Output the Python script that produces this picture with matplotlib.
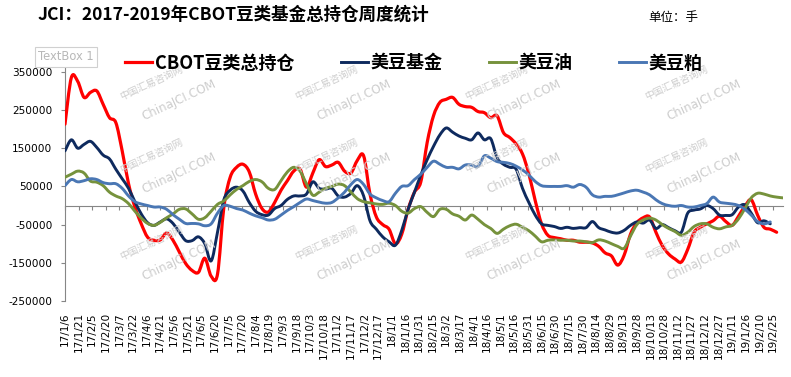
import numpy as np
import pandas as pd
import matplotlib
matplotlib.use("Agg")
import matplotlib.pyplot as plt
import matplotlib.dates as mdates
from matplotlib.path import Path
from matplotlib.patches import PathPatch
from matplotlib.lines import Line2D

plt.rcParams['font.family'] = ['DejaVu Sans', 'Noto Sans CJK SC']
CJK = ['Noto Sans CJK SC', 'DejaVu Sans']

nan = np.nan
# weekly dates
dates = pd.date_range('2017-01-06', periods=114, freq='7D')

# values in thousands of contracts (手)
cbot_total_k = [213, 335, 325, 283, 296, 300, 265, 230, 217, 143,
                57, -4, -48, -83, -91, -90, -72, -91, -122, -152,
                -170, -175, -138, -185, -180, -5, 74, 100, 108, 88,
                30, -8, -17, 8, 40, 65, 90, 95, 48, 85,
                120, 102, 106, 113, 90, 85, 118, 130, 30, -30,
                -50, -62, -100, -75, -10, 35, 62, 165, 235, 270,
                278, 283, 265, 259, 257, 246, 243, 230, 235, 191,
                178, 161, 135, 83, 13, -48, -78, -84, -87, -91,
                -91, -96, -96, -98, -107, -124, -132, -156, -130, -75,
                -45, -32, -30, -70, -105, -127, -140, -148, -115, -70,
                -57, -48, -40, -28, -42, -52, -28, -2, 15, -25,
                -57, -62, -70, nan]
soy_fund_k = [143, 172, 150, 160, 168, 152, 132, 122, 95, 70,
              45, 10, -22, -45, -52, -43, -35, -47, -70, -92,
              -92, -82, -100, -145, -70, 15, 40, 48, 38, 8,
              -15, -24, -25, -8, 0, 16, 25, 25, 30, 62,
              45, 43, 45, 25, 22, 32, 52, 25, -40, -62,
              -82, -95, -104, -65, -10, 35, 80, 120, 155, 185,
              203, 192, 182, 176, 172, 190, 172, 175, 125, 108,
              100, 95, 45, 8, -25, -48, -52, -55, -60, -57,
              -60, -58, -58, -42, -58, -64, -70, -72, -65, -52,
              -43, -46, -38, -60, -50, -58, -66, -70, -20, -12,
              -9, 0, -8, -25, -26, -24, -4, 2, -20, -45,
              -40, -48, nan, nan]
soy_oil_k = [74, 82, 90, 85, 64, 61, 52, 35, 25, 18,
             5, -15, -33, -47, -52, -44, -32, -22, -10, -9,
             -22, -36, -32, -15, 3, 12, 28, 42, 52, 63,
             68, 62, 45, 42, 65, 88, 100, 90, 57, 27,
             35, 45, 50, 56, 52, 35, 18, 10, 7, 4,
             3, 6, 0, -15, -20, -8, -3, -18, -29, -10,
             -10, -22, -28, -38, -25, -36, -50, -60, -73, -62,
             -53, -49, -57, -66, -80, -95, -91, -90, -91, -91,
             -93, -93, -95, -97, -90, -93, -100, -107, -112, -80,
             -50, -38, -33, -38, -50, -60, -68, -78, -70, -55,
             -48, -48, -57, -61, -56, -52, -35, -8, 20, 32,
             30, 25, 22, 20]
soy_meal_k = [52, 68, 62, 65, 70, 68, 60, 57, 57, 45,
              25, 10, 4, 0, -4, -4, -10, -24, -36, -47,
              -47, -48, -53, -48, -20, 0, -2, -8, -12, -20,
              -27, -32, -38, -36, -25, -13, -3, 8, 17, 13,
              9, 6, 8, 20, 35, 55, 68, 55, 30, 20,
              13, 10, 32, 50, 52, 68, 82, 100, 116, 108,
              100, 100, 96, 106, 106, 102, 130, 124, 115, 113,
              110, 103, 93, 80, 63, 52, 50, 50, 50, 52,
              48, 55, 48, 28, 22, 24, 24, 28, 33, 38,
              40, 35, 28, 15, 5, 0, -2, 0, -4, -4,
              0, 5, 22, 9, 6, 4, 0, -10, -25, -42,
              -48, -43, nan, nan]

series_names = ['CBOT豆类总持仓', '美豆基金', '美豆油', '美豆粕']
series_colors = ['#FF0000', '#0E2A5E', '#76923C', '#4A77B4']

tick_labels = ['17/1/6', '17/1/21', '17/2/5', '17/2/20', '17/3/7', '17/3/22', '17/4/6',
               '17/4/21', '17/5/6', '17/5/21', '17/6/5', '17/6/20', '17/7/5', '17/7/20',
               '17/8/4', '17/8/19', '17/9/3', '17/9/18', '17/10/3', '17/10/18', '17/11/2',
               '17/11/17', '17/12/2', '17/12/17', '18/1/1', '18/1/16', '18/1/31', '18/2/15',
               '18/3/2', '18/3/17', '18/4/1', '18/4/16', '18/5/1', '18/5/16', '18/5/31',
               '18/6/15', '18/6/30', '18/7/15', '18/7/30', '18/8/14', '18/8/29', '18/9/13',
               '18/9/28', '18/10/13', '18/10/28', '18/11/12', '18/11/27', '18/12/12',
               '18/12/27', '19/1/11', '19/1/26', '19/2/10', '19/2/25']
tick_dates = pd.to_datetime(['20' + s.replace('/', '-') for s in tick_labels], format='%Y-%m-%d')

y_ticks = [-250000, -150000, -50000, 50000, 150000, 250000, 350000]


def smooth_path(x, y):
    """Excel-style smoothed line: cubic Bezier through the data points."""
    n = len(x)
    verts = [(x[0], y[0])]
    codes = [Path.MOVETO]
    for i in range(n - 1):
        p0 = (x[i - 1], y[i - 1]) if i > 0 else (x[i], y[i])
        p1 = (x[i], y[i])
        p2 = (x[i + 1], y[i + 1])
        p3 = (x[i + 2], y[i + 2]) if i + 2 < n else p2
        c1 = (p1[0] + (p2[0] - p0[0]) / 6, p1[1] + (p2[1] - p0[1]) / 6)
        c2 = (p2[0] - (p3[0] - p1[0]) / 6, p2[1] - (p3[1] - p1[1]) / 6)
        verts += [c1, c2, p2]
        codes += [Path.CURVE4] * 3
    return Path(verts, codes)


W, H = 791, 377
fig = plt.figure(figsize=(W / 100, H / 100), dpi=100)
fig.patch.set_facecolor('white')

L, R, T, B = 65, 783, 68, 301
ax = fig.add_axes([L / W, 1 - B / H, (R - L) / W, (B - T) / H])
ax.set_facecolor('none')

# watermarks (faint)
wm_cols = [175, 350, 520, 700]
wm_rows = [95, 168, 255]
for cx in wm_cols:
    for cy in wm_rows:
        fig.text(cx / W - 0.03, 1 - (cy - 12) / H, '中国汇易咨询网', family=CJK, fontsize=7,
                 color='#cdcdcd', rotation=25, ha='center', va='center', zorder=0)
        fig.text(cx / W + 0.005, 1 - (cy + 5) / H, 'ChinaJCI.COM', fontsize=8.5, color='#cdcdcd',
                 rotation=25, ha='center', va='center', zorder=0)

xnum = mdates.date2num(dates.to_pydatetime())
handles = []
for vals, name, col in zip([cbot_total_k, soy_fund_k, soy_oil_k, soy_meal_k], series_names, series_colors):
    v = np.array(vals, dtype=float) * 1000
    ok = ~np.isnan(v)
    lw = 2.3 if col == '#FF0000' else 2.1
    patch = PathPatch(smooth_path(xnum[ok], v[ok]), fill=False, edgecolor=col, lw=lw,
                      capstyle='round', joinstyle='round', transform=ax.transData, zorder=3)
    ax.add_patch(patch)
    handles.append(Line2D([], [], color=col, lw=lw, label=name))

ax.set_ylim(-250000, 360000)
ax.set_xlim(xnum[0], xnum[-1])
ax.set_yticks(y_ticks)
ax.set_yticklabels([str(v) for v in y_ticks])
ax.tick_params(axis='y', direction='out', length=3, width=0.8, color='#868686', pad=6,
               labelsize=7.6, labelcolor='black')

for s in ['top', 'right']:
    ax.spines[s].set_visible(False)
ax.spines['left'].set_color('#868686')
ax.spines['left'].set_linewidth(0.8)
ax.spines['bottom'].set_position(('data', 0))
ax.spines['bottom'].set_color('#868686')
ax.spines['bottom'].set_linewidth(0.8)
tnum = mdates.date2num(tick_dates.to_pydatetime())
ax.set_xticks(tnum)
ax.tick_params(axis='x', direction='out', length=3, width=0.8, color='#868686', labelbottom=False)

sec = ax.secondary_xaxis('bottom')
sec.spines['bottom'].set_visible(False)
sec.set_xticks(tnum)
sec.set_xticklabels(tick_labels, rotation=90, fontsize=7.6)
sec.tick_params(axis='x', length=0, pad=8)

# title
fig.text(38 / W, 1 - 15 / H, 'JCI：2017-2019年CBOT豆类基金总持仓周度统计', family=CJK,
         fontsize=12.6, fontweight='bold', ha='left', va='center')
fig.text(648 / W, 1 - 18 / H, '单位：手', family=CJK, fontsize=9, ha='left', va='center')

# textbox artifact
fig.text(66 / W, 1 - 57 / H, 'TextBox 1', fontsize=8.3, color='#b8b8b8', ha='center', va='center',
         bbox=dict(boxstyle='square,pad=0.3', fc='white', ec='#d0d0d0', lw=0.8))

leg = fig.legend(handles=handles, loc='center', bbox_to_anchor=(414 / W, 1 - 63 / H), ncol=4,
                 frameon=False, prop={'family': CJK, 'size': 13, 'weight': 'bold'},
                 handlelength=1.5, handletextpad=0.12, columnspacing=2.6, borderpad=0)

fig.savefig('out.png', dpi=100)
